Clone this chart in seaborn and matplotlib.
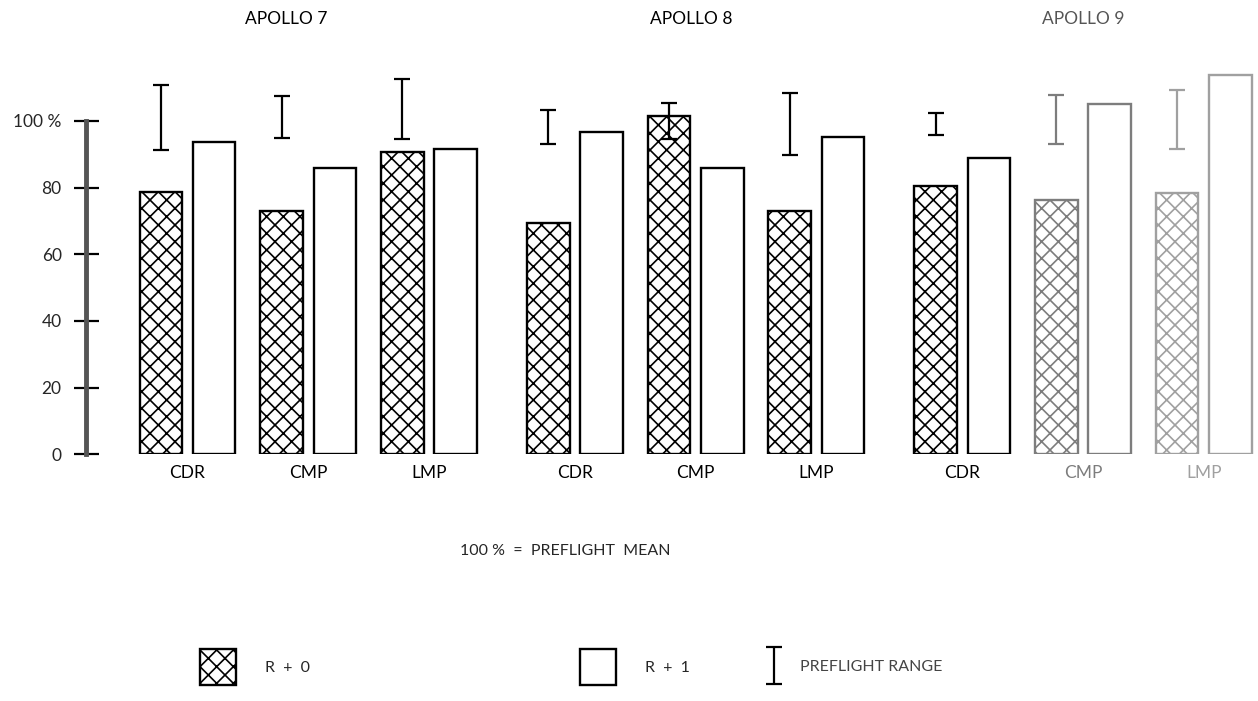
import numpy as np
import pandas as pd
import matplotlib
matplotlib.use("Agg")
import matplotlib.pyplot as plt
import matplotlib.transforms as mtransforms
from matplotlib.patches import Patch
from matplotlib.legend_handler import HandlerErrorbar
import seaborn as sns

# ---------------- data ----------------
missions = ["APOLLO 7", "APOLLO 8", "APOLLO 9"]
crew = ["CDR", "CMP", "LMP"]
conditions = ["R + 0", "R + 1"]
r0_values = [78.6, 73.1, 90.8, 69.5, 101.5, 73.0, 80.5, 76.3, 78.3]
r1_values = [93.6, 85.8, 91.5, 96.8, 86.0, 95.3, 89.0, 105.0, 113.8]
range_low = [91.2, 95.0, 94.5, 93.0, 94.5, 89.7, 95.8, 93.0, 91.5]
range_high = [110.8, 107.5, 112.5, 103.3, 105.5, 108.3, 102.5, 107.8, 109.3]
y_ticks = [0, 20, 40, 60, 80, 100]
y_tick_labels = ["0", "20", "40", "60", "80", "100 %"]

# ---------------- style / layout ----------------
sns.set_theme(style="white")
plt.rcParams["font.family"] = ["Lato", "DejaVu Sans"]
plt.rcParams["hatch.linewidth"] = 1.2

item_colors = ["black"] * 7 + ["#7d7d7d", "#a0a0a0"]
GROUP_STEP = 3.21
BAR_WIDTH = 0.883
PX_PER_UNIT = 120.7
n_crew = len(crew)
positions = [g * GROUP_STEP + c for g in range(len(missions)) for c in range(n_crew)]

df = pd.DataFrame({
    "pos": positions * 2,
    "value": r0_values + r1_values,
    "condition": [conditions[0]] * len(r0_values) + [conditions[1]] * len(r1_values),
})

W, H = 1258, 701
fig = plt.figure(figsize=(W / 100, H / 100), dpi=100)
ax = fig.add_axes([86 / W, 1 - 454.3 / H, (W - 86) / W, 400 / H])

sns.barplot(data=df, x="pos", y="value", hue="condition", hue_order=conditions,
            native_scale=True, width=BAR_WIDTH, gap=0.2,
            palette={c: "white" for c in conditions}, edgecolor="black",
            linewidth=1.7, errorbar=None, legend=False, ax=ax)

pos_arr = np.array(positions)
for ci, cont in enumerate(ax.containers):
    offset = (-0.25 if ci == 0 else 0.25) * BAR_WIDTH
    for bar in cont:
        cx = bar.get_x() + bar.get_width() / 2
        j = int(np.argmin(np.abs(pos_arr + offset - cx)))
        bar.set_edgecolor(item_colors[j])
        if ci == 0:
            bar.set_hatch("xx")

# preflight range I-beams above the R+0 bars
eb_handle = None
for j, p in enumerate(positions):
    lo, hi = range_low[j], range_high[j]
    eb = ax.errorbar([p - 0.25 * BAR_WIDTH], [(lo + hi) / 2], yerr=[(hi - lo) / 2],
                     fmt="none", ecolor=item_colors[j], elinewidth=1.6,
                     capsize=5.5, capthick=1.6, zorder=5)
    if eb_handle is None:
        eb_handle = eb

ax.set_xlim(-101.5 / PX_PER_UNIT, (W - 187.5) / PX_PER_UNIT)
ax.set_ylim(0, 120)

for s in ["top", "right", "bottom"]:
    ax.spines[s].set_visible(False)
ax.spines["left"].set_bounds(0, 100)
ax.spines["left"].set_linewidth(3.5)
ax.spines["left"].set_color("#555555")

ax.set_yticks(y_ticks, y_tick_labels)
ax.tick_params(axis="y", direction="inout", length=18, width=1.6, color="black",
               pad=8.5, labelsize=12.5, left=True)
ax.set_xticks(positions, crew * len(missions))
ax.tick_params(axis="x", length=0, pad=8, labelsize=12.5)
for lab, col in zip(ax.get_xticklabels(), item_colors):
    lab.set_color(col)
ax.set_xlabel("")
ax.set_ylabel("")

trans = mtransforms.blended_transform_factory(ax.transData, fig.transFigure)
title_colors = ["black", "black", "#555555"]
title_shift = [-0.18, -0.04, 0.0]
for g, name in enumerate(missions):
    ax.text(g * GROUP_STEP + 1 + title_shift[g], 1 - 19 / H, name, transform=trans,
            ha="center", va="center", fontsize=12.5, color=title_colors[g])

fig.text(565 / W, 1 - 551 / H, "100 %  =  PREFLIGHT  MEAN", ha="center", va="center",
         fontsize=11.5)

common = dict(loc="center left", frameon=False, borderpad=0, borderaxespad=0, fontsize=11.5)
fig.legend(handles=[Patch(facecolor="white", edgecolor="black", hatch="xx", linewidth=1.7)],
           labels=["R  +  0"], bbox_to_anchor=(200 / W, 1 - 667 / H),
           handlelength=2.25, handleheight=3.1, handletextpad=1.8, **common)
fig.legend(handles=[Patch(facecolor="white", edgecolor="black", linewidth=1.7)],
           labels=["R  +  1"], bbox_to_anchor=(580 / W, 1 - 667 / H),
           handlelength=2.25, handleheight=3.1, handletextpad=1.8, **common)
leg3 = fig.legend(handles=[eb_handle], labels=["PREFLIGHT RANGE"],
                  handler_map={eb_handle: HandlerErrorbar(yerr_size=1.15)},
                  bbox_to_anchor=(766 / W, 1 - 667 / H), handlelength=1.0,
                  handletextpad=1.1, **common)
for t in leg3.get_texts():
    t.set_color("#444444")

fig.savefig("out.png", dpi=100, facecolor="white")
